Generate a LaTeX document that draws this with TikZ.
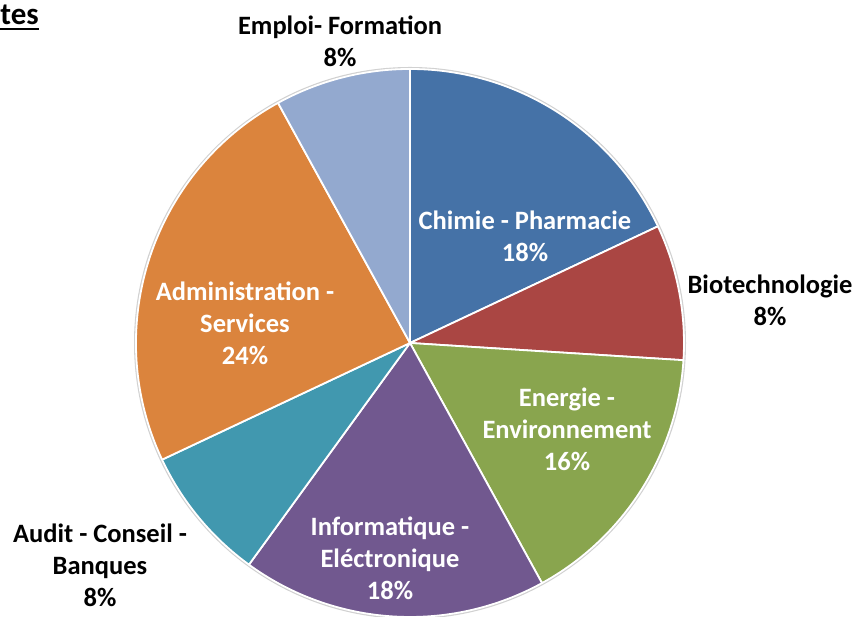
\documentclass[tikz,border=0pt]{standalone}
\usepackage{fontspec}
\setmainfont{Carlito}
\usepackage{tikz}
\usetikzlibrary{positioning}
\definecolor{chimie}{HTML}{4572A7}
\definecolor{biotech}{HTML}{AA4643}
\definecolor{energie}{HTML}{89A54E}
\definecolor{info}{HTML}{71588F}
\definecolor{audit}{HTML}{4198AF}
\definecolor{admin}{HTML}{DB843D}
\definecolor{emploi}{HTML}{93A9CF}
\tikzstyle{slice} = [draw=white, line width=1.8pt, line join=round]
\tikzstyle{inlabel} = [text=white, font=\fontsize{26.5}{32}\selectfont\bfseries, align=center]
\tikzstyle{outlabel} = [text=black, font=\fontsize{26.5}{32}\selectfont\bfseries, align=center]

\begin{document}
\begin{tikzpicture}[x=1pt, y=1pt]
	\useasboundingbox (0,0) rectangle (855,617);
	\coordinate (O) at (410,274);
	\fill [black!18] (O) circle (276);
	% slices, clockwise from the top
	\foreach \start/\stop/\col in {90/25.2/chimie, 25.2/-3.6/biotech, -3.6/-61.2/energie, -61.2/-126/info, -126/-154.8/audit, -154.8/-241.2/admin, -241.2/-270/emploi}
		\filldraw [slice, fill=\col] (O) -- ++(\start:274) arc (\start:\stop:274) -- cycle;
	\node (Chimie) [inlabel] at (525,381) {Chimie - Pharmacie\\18\%};
	\node (Energie) [inlabel] at (567,188) {Energie -\\Environnement\\16\%};
	\node (Info) [inlabel] at (390,59) {Informatique -\\Eléctronique\\18\%};
	\node (Admin) [inlabel] at (245,294) {Administration -\\Services\\24\%};
	\node (Emploi) [outlabel] at (340,576) {Emploi- Formation\\8\%};
	\node (Biotech) [outlabel] at (770,317) {Biotechnologie\\8\%};
	\node (Audit) [outlabel] at (100,52) {Audit - Conseil -\\Banques\\8\%};
	\node (Title) [outlabel, font=\fontsize{31}{36}\selectfont\bfseries, anchor=south east, inner sep=0pt] at (39,592) {tes};
	\draw [line width=2.8pt] ([yshift=-4pt]Title.south west) -- ([yshift=-4pt]Title.south east);
\end{tikzpicture}
\end{document}
